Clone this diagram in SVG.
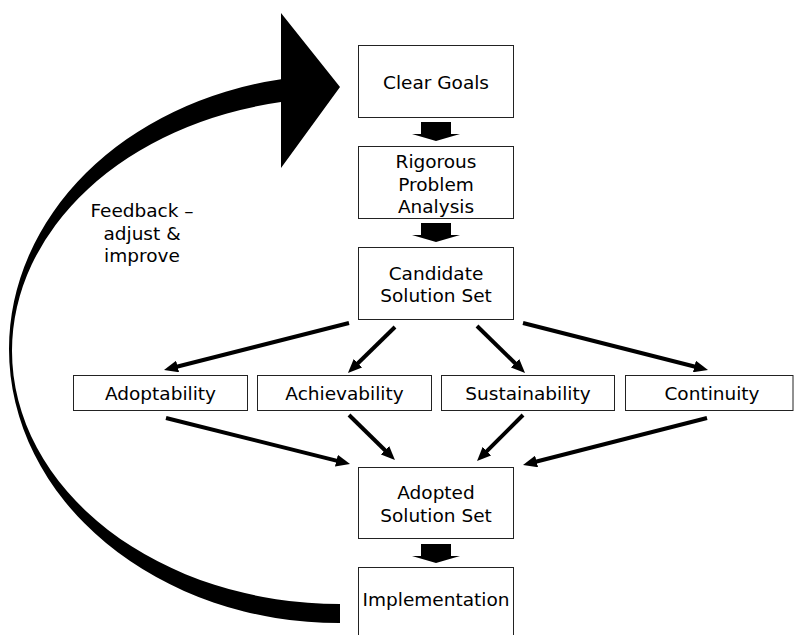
<svg xmlns="http://www.w3.org/2000/svg" width="794" height="635" viewBox="0 0 794 635">
  <style>
    .box { fill: #fff; stroke: #222; stroke-width: 1; }
    .lbl { font-family: "DejaVu Sans", Verdana, sans-serif; font-size: 18.5px; fill: #000; text-anchor: middle; }
    .conn { stroke: #000; stroke-width: 4; fill: none; marker-end: url(#head); }
    .block { fill: #000; }
  </style>
  <defs>
    <marker id="head" viewBox="0 0 14 12" refX="4" refY="6" markerWidth="14" markerHeight="12" markerUnits="userSpaceOnUse" orient="auto">
      <path d="M0,0 L14,6 L0,12 Z" fill="#000"/>
    </marker>
    <!-- short downward block arrow between stacked boxes -->
    <path id="down" d="M-15,0 H15 V12 H24 L0,19 L-24,12 H-15 Z"/>
  </defs>

  <!-- feedback loop: curved band from the bottom back up to the top -->
  <g id="feedback">
    <path fill="#000" d="M281,79.3 L281,13 L340,87 L281,168 L281,102.1
      A328,253 0 0 0 12,351
      A328,253 0 0 0 340,604
      L340,623
      A330,274 0 0 1 9,349
      A330,274 0 0 1 281,79.3 Z"/>
    <text class="lbl" x="142" y="217">Feedback –</text>
    <text class="lbl" x="142" y="240">adjust &amp;</text>
    <text class="lbl" x="142" y="262">improve</text>
  </g>

  <g id="clear-goals">
    <rect class="box" x="358.5" y="45.5" width="155" height="72"/>
    <text class="lbl" x="436" y="89">Clear Goals</text>
  </g>
  <g id="problem-analysis">
    <rect class="box" x="358.5" y="146.5" width="155" height="72"/>
    <text class="lbl" x="436" y="168">Rigorous</text>
    <text class="lbl" x="436" y="190.5">Problem</text>
    <text class="lbl" x="436" y="213">Analysis</text>
  </g>
  <g id="candidate-set">
    <rect class="box" x="358.5" y="247.5" width="155" height="72"/>
    <text class="lbl" x="436" y="279.5">Candidate</text>
    <text class="lbl" x="436" y="302">Solution Set</text>
  </g>
  <g id="adoptability">
    <rect class="box" x="73.5" y="375.5" width="174" height="35"/>
    <text class="lbl" x="160.5" y="400">Adoptability</text>
  </g>
  <g id="achievability">
    <rect class="box" x="257.5" y="375.5" width="174" height="35"/>
    <text class="lbl" x="344.5" y="400">Achievability</text>
  </g>
  <g id="sustainability">
    <rect class="box" x="441.5" y="375.5" width="173" height="35"/>
    <text class="lbl" x="528" y="400">Sustainability</text>
  </g>
  <g id="continuity">
    <rect class="box" x="625.5" y="375.5" width="167.5" height="35"/>
    <text class="lbl" x="712" y="400">Continuity</text>
  </g>
  <g id="adopted-set">
    <rect class="box" x="358.5" y="467.5" width="155" height="71"/>
    <text class="lbl" x="436" y="499">Adopted</text>
    <text class="lbl" x="436" y="522">Solution Set</text>
  </g>
  <g id="implementation">
    <rect class="box" x="358.5" y="567.5" width="155" height="80"/>
    <text class="lbl" x="436" y="606">Implementation</text>
  </g>

  <g id="connectors">
    <use href="#down" class="block" x="436" y="122"/>
    <use href="#down" class="block" x="436" y="223"/>
    <use href="#down" class="block" x="436" y="544"/>
    <line class="conn" x1="349" y1="323" x2="173.7" y2="367.5"/>
    <line class="conn" x1="395" y1="327" x2="355.1" y2="366"/>
    <line class="conn" x1="477" y1="326" x2="517.9" y2="366"/>
    <line class="conn" x1="523" y1="323" x2="698.3" y2="367.5"/>
    <line class="conn" x1="166" y1="418" x2="340.3" y2="461.6"/>
    <line class="conn" x1="349" y1="415" x2="387.8" y2="453"/>
    <line class="conn" x1="523" y1="415" x2="484.1" y2="453.9"/>
    <line class="conn" x1="707" y1="418" x2="532.7" y2="462.5"/>
  </g>
</svg>
